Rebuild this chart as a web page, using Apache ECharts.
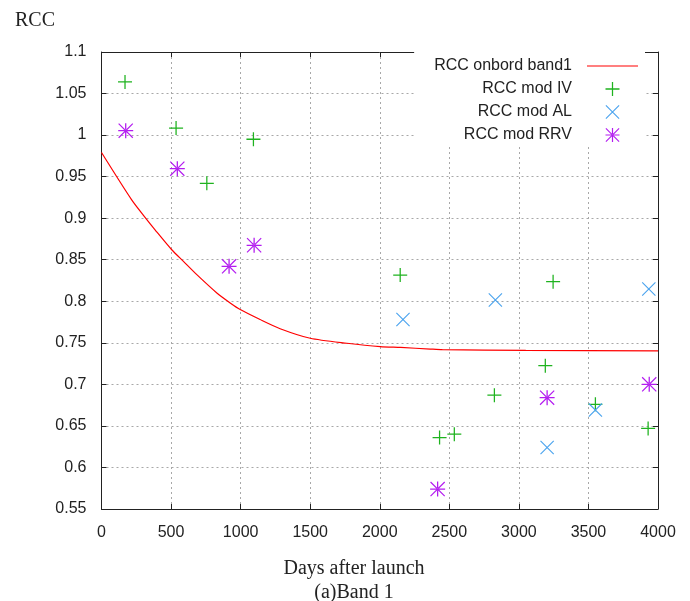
<!DOCTYPE html>
<html>
<head>
<meta charset="utf-8">
<script src="https://cdn.jsdelivr.net/npm/echarts@6/dist/echarts.min.js"></script>
<style>
html,body{margin:0;padding:0;background:#fff;}
#c{width:690px;height:601px;}
</style>
</head>
<body>
<div id="c"></div>
<script>
// ---- data ----
var seriesNames = ['RCC onbord band1', 'RCC mod IV', 'RCC mod AL', 'RCC mod RRV'];

var onboardDays = [0, 217, 313, 385, 505, 589, 685, 829, 925, 997, 1140, 1284, 1500, 1764, 2004, 2150, 2363, 2450, 3050, 4000];
var onboardRCC  = [0.979, 0.922, 0.901, 0.886, 0.862, 0.848, 0.832, 0.810, 0.798, 0.790, 0.778, 0.767, 0.7555, 0.7495, 0.7454, 0.7444, 0.7425, 0.7418, 0.7408, 0.7403];

var ivDays = [169, 536, 757, 1092, 2147, 2430, 2536, 2824, 3190, 3246, 3550, 3929];
var ivRCC  = [1.064, 1.0085, 0.942, 0.995, 0.8316, 0.636, 0.640, 0.687, 0.7225, 0.8236, 0.676, 0.647];

var alDays = [2167, 2831, 3203, 3550, 3934];
var alRCC  = [0.778, 0.8016, 0.624, 0.669, 0.8148];

var rrvDays = [174, 545, 917, 1097, 2416, 3203, 3937];
var rrvRCC  = [1.0053, 0.9596, 0.842, 0.8674, 0.574, 0.684, 0.700];

var xTicks = [0, 500, 1000, 1500, 2000, 2500, 3000, 3500, 4000];
var yTicks = [0.55, 0.6, 0.65, 0.7, 0.75, 0.8, 0.85, 0.9, 0.95, 1, 1.05, 1.1];

function pairs(xs, ys) { return xs.map(function (x, i) { return [x, ys[i]]; }); }

// symbol shapes (filled thin bars)
var PLUS = 'path://M-0.9,-10h1.8v20h-1.8zM-10,-0.9h20v1.8h-20z';
var CROSS = 'path://M-9.4,-10.6L10.6,9.4L9.4,10.6L-10.6,-9.4ZM9.4,-10.6L10.6,-9.4L-9.4,10.6L-10.6,9.4Z';
var STAR = 'path://M-0.9,-10.6h1.8v21.2h-1.8zM-10.6,-0.9h21.2v1.8h-21.2zM-9.4,-10.6L10.6,9.4L9.4,10.6L-10.6,-9.4ZM9.4,-10.6L10.6,-9.4L-9.4,10.6L-10.6,9.4ZM-1.6,0A1.6,1.6,0,1,0,1.6,0A1.6,1.6,0,1,0,-1.6,0Z';
var LINE_ICON = 'path://M0,0L51,0L51,1.2L0,1.2Z';

var SANS = '"Liberation Sans", Arial, sans-serif';
var SERIF = '"Liberation Serif", "Times New Roman", serif';

var chart = echarts.init(document.getElementById('c'), null, {renderer: 'canvas'});
var gridLine = {show: true, lineStyle: {color: '#a8a8a8', type: [2, 3], width: 1}};
var frame = {show: true, onZero: false, lineStyle: {color: '#222', width: 1}};
var tickIn = {show: true, inside: true, length: 5, lineStyle: {color: '#222'}};
var fmt = function (v) { return String(+(+v).toFixed(2)); };

chart.setOption({
  animation: false,
  backgroundColor: '#fff',
  title: [
    {text: 'RCC', left: 10, top: 6, textStyle: {fontFamily: SERIF, fontSize: 20, fontWeight: 'normal', color: '#222'}},
    {text: 'Days after launch', left: 349, top: 554, textAlign: 'center', textStyle: {fontFamily: SERIF, fontSize: 20, fontWeight: 'normal', color: '#222'}},
    {text: '(a)Band 1', left: 349, top: 578, textAlign: 'center', textStyle: {fontFamily: SERIF, fontSize: 20, fontWeight: 'normal', color: '#222'}}
  ],
  grid: {left: 101.5, right: 32, top: 52, bottom: 92, containLabel: false},
  legend: {
    orient: 'vertical', align: 'right', right: 45, top: 52,
    itemWidth: 51, itemHeight: 14, itemGap: 7,
    padding: [6, 7, 4, 20],
    backgroundColor: '#fff',
    textStyle: {fontFamily: SANS, fontSize: 16, color: '#222', padding: [0, 10, 0, 0]},
    data: [
      {name: seriesNames[0], icon: LINE_ICON},
      seriesNames[1], seriesNames[2], seriesNames[3]
    ],
    z: 5
  },
  xAxis: [
    {type: 'value', min: 0, max: 4000, interval: 500, position: 'bottom',
     axisLine: frame, axisTick: tickIn, splitLine: gridLine,
     axisLabel: {margin: 16, fontFamily: SANS, fontSize: 16, color: '#222', formatter: fmt}},
    {type: 'value', min: 0, max: 4000, interval: 500, position: 'top',
     axisLine: frame, axisTick: tickIn, splitLine: {show: false}, axisLabel: {show: false}}
  ],
  yAxis: [
    {type: 'value', min: 0.55, max: 1.1, interval: 0.05, position: 'left',
     axisLine: frame, axisTick: tickIn, splitLine: gridLine,
     axisLabel: {margin: 15, fontFamily: SANS, fontSize: 16, color: '#222', formatter: fmt}},
    {type: 'value', min: 0.55, max: 1.1, interval: 0.05, position: 'right',
     axisLine: frame, axisTick: tickIn, splitLine: {show: false}, axisLabel: {show: false}}
  ],
  series: [
    {name: seriesNames[0], type: 'line', data: pairs(onboardDays, onboardRCC), symbol: 'none',
     smooth: 0.25, lineStyle: {color: '#ff0000', width: 1.2}, itemStyle: {color: '#ff0000'}, z: 3},
    {name: seriesNames[1], type: 'scatter', data: pairs(ivDays, ivRCC), symbol: PLUS, symbolSize: 14,
     itemStyle: {color: '#1fb31f', opacity: 1}, z: 4},
    {name: seriesNames[2], type: 'scatter', data: pairs(alDays, alRCC), symbol: CROSS, symbolSize: 14,
     itemStyle: {color: '#4aa3ee', opacity: 1}, z: 4},
    {name: seriesNames[3], type: 'scatter', data: pairs(rrvDays, rrvRCC), symbol: STAR, symbolSize: 15,
     itemStyle: {color: '#b31cf0', opacity: 1}, z: 4}
  ]
});
</script>
</body>
</html>
